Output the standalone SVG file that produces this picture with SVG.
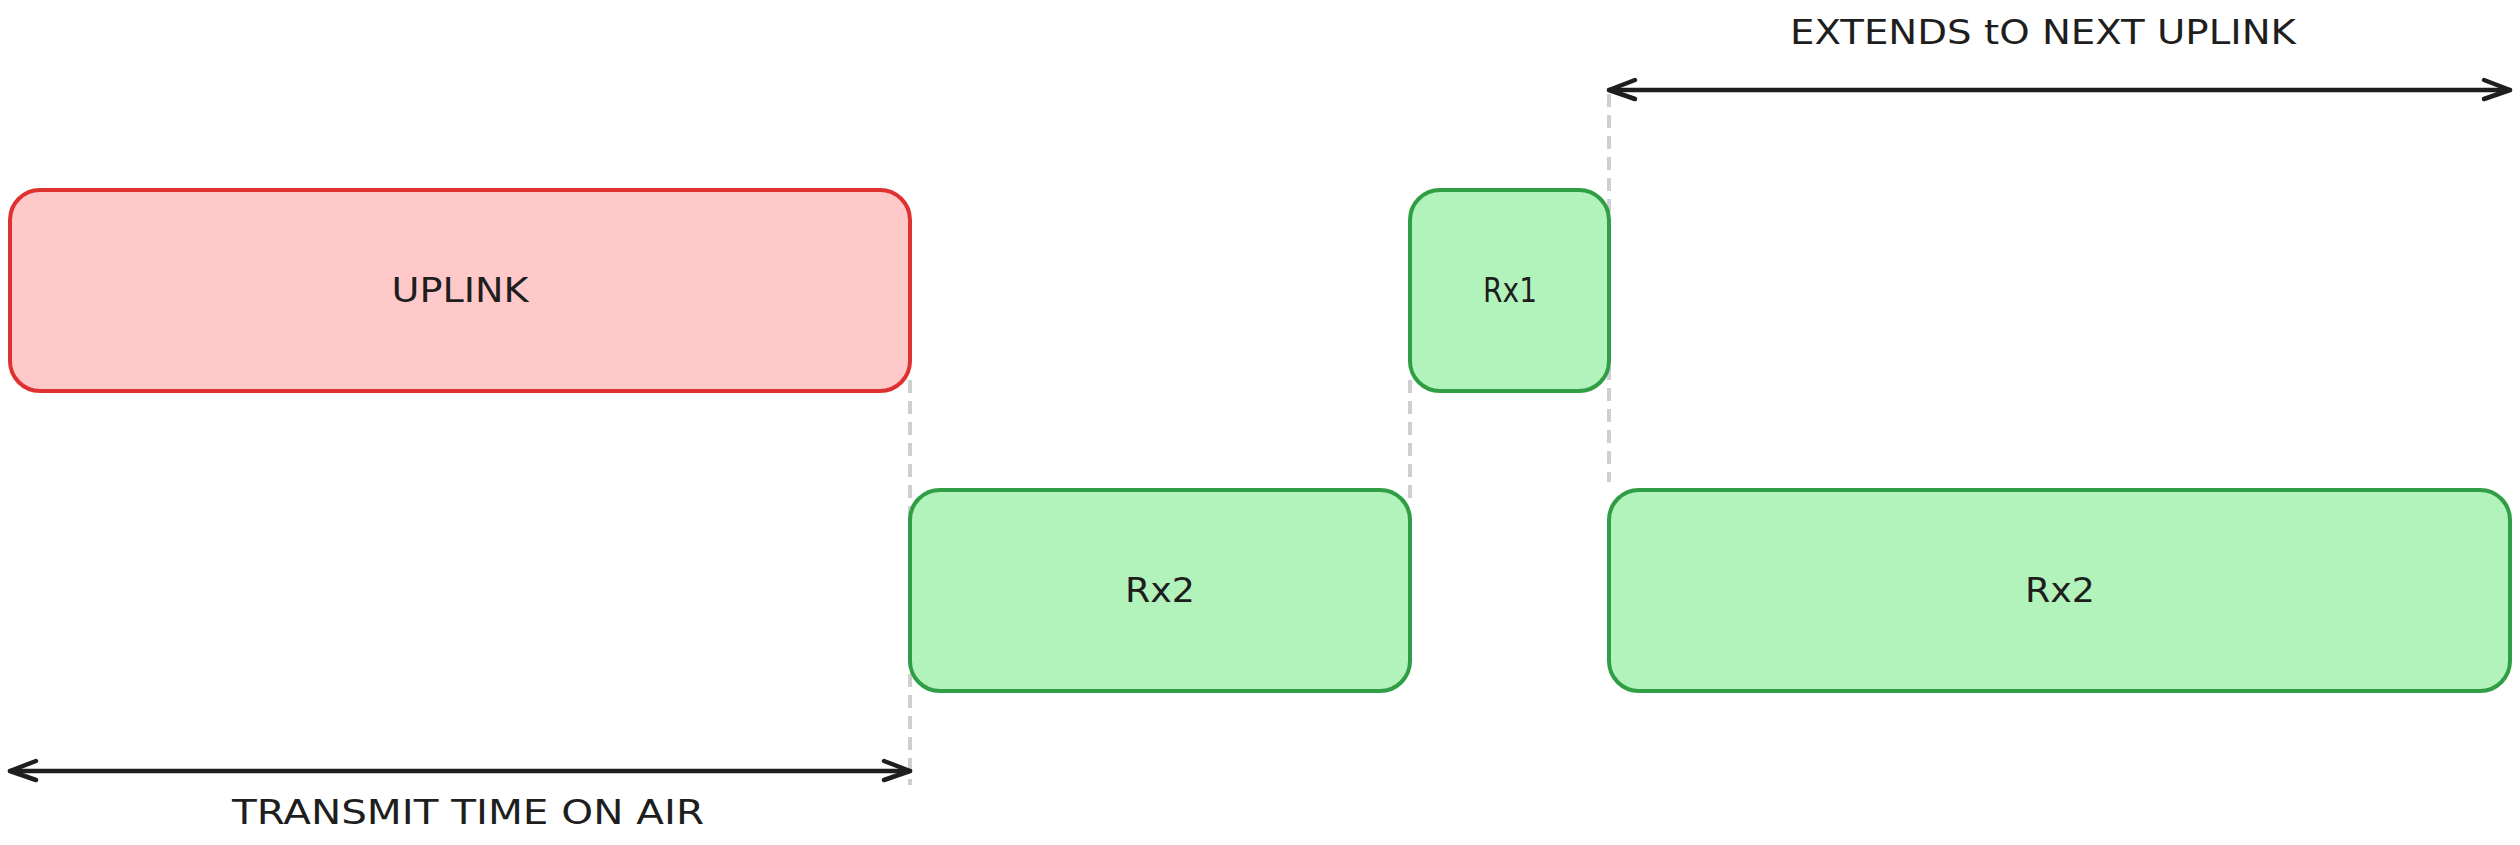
<svg xmlns="http://www.w3.org/2000/svg" width="2520" height="845" viewBox="0 0 2520 845">
<style>
.bg{fill:#ffffff}
.red{fill:#ffc9c9;stroke:#e03131;stroke-width:4}
.green{fill:#b2f2bb;stroke:#2f9e44;stroke-width:4}
.dash{stroke:#cfcfcf;stroke-width:4;stroke-dasharray:13 8;fill:none}
.arr{stroke:#1e1e1e;stroke-width:4.5;fill:none;stroke-linecap:round;stroke-linejoin:round}
.lbl{font-family:"DejaVu Sans","Liberation Sans",sans-serif;font-size:34px;fill:#1e1e1e;text-anchor:middle;dominant-baseline:central}
</style>
<rect class="bg" x="0" y="0" width="2520" height="845"/>
<g id="guides">
<line class="dash" x1="910" y1="380" x2="910" y2="785"/>
<line class="dash" x1="1410" y1="380" x2="1410" y2="500"/>
<line class="dash" x1="1609" y1="94" x2="1609" y2="482"/>
</g>
<g id="uplink">
<rect class="red" x="10" y="190" width="900" height="201" rx="30"/>
<text class="lbl" x="460" y="290" textLength="137" lengthAdjust="spacingAndGlyphs">UPLINK</text>
</g>
<g id="rx1">
<rect class="green" x="1410" y="190" width="199" height="201" rx="30"/>
<text class="lbl" x="1510" y="290" textLength="54" lengthAdjust="spacingAndGlyphs">Rx1</text>
</g>
<g id="rx2a">
<rect class="green" x="910" y="490" width="500" height="201" rx="30"/>
<text class="lbl" x="1160" y="590" textLength="70" lengthAdjust="spacingAndGlyphs">Rx2</text>
</g>
<g id="rx2b">
<rect class="green" x="1609" y="490" width="901" height="201" rx="30"/>
<text class="lbl" x="2060" y="590" textLength="70" lengthAdjust="spacingAndGlyphs">Rx2</text>
</g>
<g id="connectors">
<g id="extends-arrow">
<line class="arr" x1="1609" y1="90" x2="2510" y2="90"/>
<polyline class="arr" points="1635,80 1609,90 1635,99"/>
<polyline class="arr" points="2484,80 2510,90 2484,99"/>
</g>
<g id="toa-arrow">
<line class="arr" x1="10" y1="771" x2="910" y2="771"/>
<polyline class="arr" points="36,761 10,771 36,780"/>
<polyline class="arr" points="884,761 910,771 884,780"/>
</g>
</g>
<g id="texts">
<text class="lbl" x="2043" y="32" textLength="506" lengthAdjust="spacingAndGlyphs">EXTENDS tO NEXT UPLINK</text>
<text class="lbl" x="468" y="812" textLength="472" lengthAdjust="spacingAndGlyphs">TRANSMIT TIME ON AIR</text>
</g>
</svg>
